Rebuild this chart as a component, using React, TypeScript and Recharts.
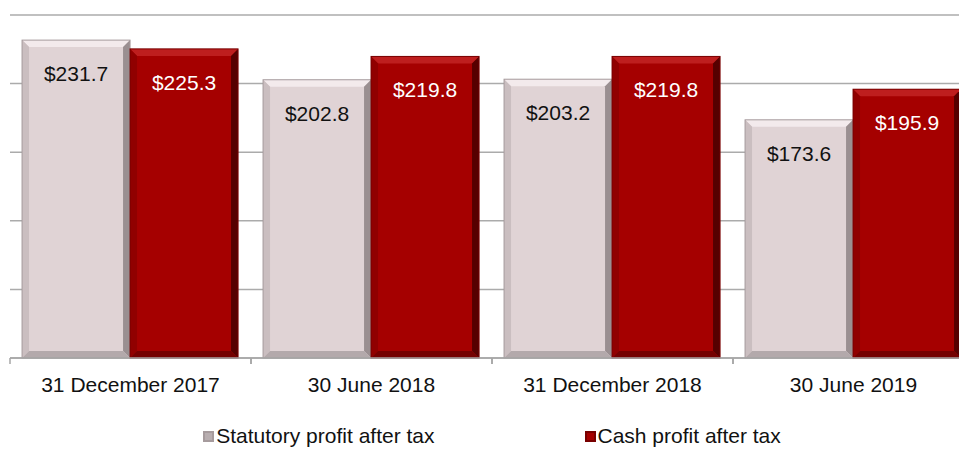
import { BarChart, Bar, XAxis, YAxis, CartesianGrid, Legend, LabelList } from 'recharts';

const periods = ['31 December 2017', '30 June 2018', '31 December 2018', '30 June 2019'];
const statutory = [231.7, 202.8, 203.2, 173.6];
const cash = [225.3, 219.8, 219.8, 195.9];
const yTicks = [0, 50, 100, 150, 200, 250];

const data = periods.map((p, i) => ({ period: p, statutory: statutory[i], cash: cash[i] }));

const FONT = '"Liberation Sans", Arial, sans-serif';

const palettes: Record<string, any> = {
  statutory: { base: '#E0D3D5', top: '#F3EAEC', left: '#CABEC0', right: '#9A8F91', bottom: '#B3A9AB', edge: '#A69B9D' },
  cash: { base: '#A50000', top: '#BE1E1E', left: '#900000', right: '#560000', bottom: '#740000', edge: '#780000' },
};

const BevelBar = (kind: string) => (props: any) => {
  const { x, y, width: w, height: h } = props;
  if (!w || !h) return null;
  const c = palettes[kind];
  const b = Math.min(7, h / 2);
  return (
    <g>
      <rect x={x} y={y} width={w} height={h} fill={c.base} />
      <polygon points={`${x},${y} ${x + w},${y} ${x + w - b},${y + b} ${x + b},${y + b}`} fill={c.top} />
      <polygon points={`${x},${y} ${x + b},${y + b} ${x + b},${y + h - b} ${x},${y + h}`} fill={c.left} />
      <polygon points={`${x + w},${y} ${x + w},${y + h} ${x + w - b},${y + h - b} ${x + w - b},${y + b}`} fill={c.right} />
      <polygon points={`${x},${y + h} ${x + w},${y + h} ${x + w - b},${y + h - b} ${x + b},${y + h - b}`} fill={c.bottom} />
      <rect x={x} y={y} width={w} height={h} fill="none" stroke={c.edge} strokeWidth={1} />
    </g>
  );
};

const valueLabel = (color: string) => (props: any) => {
  const { x, y, width, value } = props;
  return (
    <text x={x + width / 2} y={y + 41} textAnchor="middle" fill={color} fontSize={21} fontFamily={FONT}>
      ${Number(value).toFixed(1)}
    </text>
  );
};

const CategoryTick = (props: any) => {
  const { x, y, payload } = props;
  const half = payload && payload.offset ? payload.offset : 120.5;
  return (
    <g>
      <line x1={x - half} y1={y - 8} x2={x - half} y2={y - 2} stroke="#A6A6A6" strokeWidth={1.5} />
      <line x1={x + half} y1={y - 8} x2={x + half} y2={y - 2} stroke="#A6A6A6" strokeWidth={1.5} />
      <text x={x} y={y + 26} textAnchor="middle" fill="#111" fontSize={21} fontFamily={FONT}>
        {payload.value}
      </text>
    </g>
  );
};

const Marker = ({ kind }: { kind: string }) => {
  const c = palettes[kind];
  const fill = kind === 'statutory' ? '#B8AEB0' : c.base;
  return (
    <svg width={11} height={11} style={{ marginRight: 2 }}>
      <rect x={0} y={0} width={11} height={11} fill={c.edge} />
      <rect x={2} y={2} width={7} height={7} fill={fill} />
    </svg>
  );
};

const LegendContent = () => (
  <div style={{ display: 'flex', justifyContent: 'center', alignItems: 'center', gap: 150, fontFamily: FONT, fontSize: 21, lineHeight: '24px', color: '#111' }}>
    <span style={{ display: 'flex', alignItems: 'center' }}>
      <Marker kind="statutory" />
      Statutory profit after tax
    </span>
    <span style={{ display: 'flex', alignItems: 'center' }}>
      <Marker kind="cash" />
      Cash profit after tax
    </span>
  </div>
);

export default function App() {
  return (
    <div style={{ position: 'fixed', left: 0, top: 0, width: 959, height: 450, overflow: 'hidden', background: '#fff' }}>
      <BarChart
        width={985}
        height={450}
        data={data}
        margin={{ top: 15, right: 11, left: 10, bottom: 0 }}
        barCategoryGap="5%"
        barGap={0}
      >
        <CartesianGrid vertical={false} stroke="#ABABAB" strokeWidth={1.5} />
        <YAxis hide domain={[0, 250]} ticks={yTicks} />
        <XAxis
          dataKey="period"
          height={66}
          axisLine={{ stroke: '#A6A6A6', strokeWidth: 1.5 }}
          tickLine={false}
          interval={0}
          tick={<CategoryTick />}
        />
        <Legend verticalAlign="bottom" height={26} content={<LegendContent />} />
        <Bar dataKey="statutory" shape={BevelBar('statutory')} isAnimationActive={false}>
          <LabelList dataKey="statutory" content={valueLabel('#111')} />
        </Bar>
        <Bar dataKey="cash" shape={BevelBar('cash')} isAnimationActive={false}>
          <LabelList dataKey="cash" content={valueLabel('#fff')} />
        </Bar>
      </BarChart>
    </div>
  );
}
